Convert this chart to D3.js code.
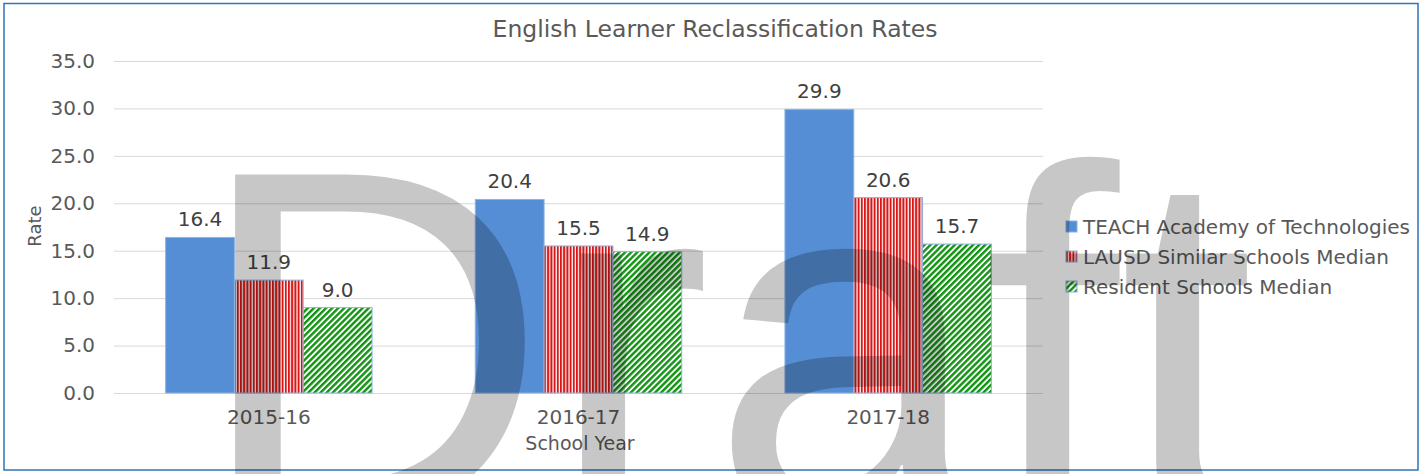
<!DOCTYPE html>
<html>
<head>
<meta charset="utf-8">
<script src="https://cdn.jsdelivr.net/npm/d3@7"></script>
<style>
  body { margin: 0; background: #ffffff; }
  svg { display: block; }
  text { font-family: "DejaVu Sans", Verdana, sans-serif; fill: #595959; }
</style>
</head>
<body>
<div id="drawing"></div>
<script>
// chart data
const years = ["2015-16", "2016-17", "2017-18"];
const seriesNames = ["TEACH Academy of Technologies", "LAUSD Similar Schools Median", "Resident Schools Median"];
const teachValues = [16.4, 20.4, 29.9];
const lausdValues = [11.9, 15.5, 20.6];
const residentValues = [9.0, 14.9, 15.7];
const yTicks = [0, 5, 10, 15, 20, 25, 30, 35];

const width = 1421;
const height = 474;
// plot area inside the frame
const plot = {left: 114, right: 1043, top: 61, bottom: 393};

let drawing;
let xScale;
let xInner;
let yScale;

function setup(){
  drawing = d3.select("#drawing").append("svg")
    .attr("width", width)
    .attr("height", height);

  // fill patterns for the two hatched series
  let defs = drawing.append("defs");
  let red = defs.append("pattern")
    .attr("id", "redStripes")
    .attr("patternUnits", "userSpaceOnUse")
    .attr("width", 3.2).attr("height", 3);
  red.append("rect").attr("width", 3.2).attr("height", 3).attr("fill", "#ffffff");
  red.append("rect").attr("width", 2).attr("height", 3).attr("fill", "#d81616");

  let green = defs.append("pattern")
    .attr("id", "greenDiag")
    .attr("patternUnits", "userSpaceOnUse")
    .attr("width", 4.3).attr("height", 4.3)
    .attr("patternTransform", "rotate(45)");
  green.append("rect").attr("width", 4.3).attr("height", 4.3).attr("fill", "#ffffff");
  green.append("rect").attr("width", 2.4).attr("height", 4.3).attr("fill", "#0f940f");

  // outer frame
  drawing.append("rect")
    .attr("x", 4).attr("y", 3.5)
    .attr("width", 1414).attr("height", 466.5)
    .attr("fill", "none")
    .attr("stroke", "#2e75b6")
    .attr("stroke-width", 1.5);
}

function make(){
  let series = [
    {name: seriesNames[0], values: teachValues, fill: "#558ed5"},
    {name: seriesNames[1], values: lausdValues, fill: "url(#redStripes)"},
    {name: seriesNames[2], values: residentValues, fill: "url(#greenDiag)"}
  ];

  xScale = d3.scaleBand().domain(years).range([plot.left, plot.right])
    .paddingInner(1 / 3).paddingOuter(1 / 6);
  xInner = d3.scaleBand().domain(d3.range(series.length)).range([0, xScale.bandwidth()]);
  yScale = d3.scaleLinear().domain([0, 35]).range([plot.bottom, plot.top]);

  // gridlines
  drawing.append("g")
    .attr("transform", `translate(${plot.left},0)`)
    .call(d3.axisLeft(yScale).tickValues(yTicks).tickSize(-(plot.right - plot.left)).tickFormat(""))
    .call(g => g.select(".domain").remove())
    .call(g => g.selectAll("line").attr("stroke", "#d9d9d9"));

  // y axis labels
  drawing.append("g")
    .attr("transform", `translate(${plot.left},0)`)
    .call(d3.axisLeft(yScale).tickValues(yTicks).tickSize(0).tickPadding(19).tickFormat(d3.format(".1f")))
    .call(g => g.select(".domain").remove())
    .call(g => g.selectAll("text").attr("font-size", 20).attr("font-family", null).attr("fill", "#595959"));

  // x axis labels
  drawing.append("g")
    .attr("transform", `translate(0,${plot.bottom})`)
    .call(d3.axisBottom(xScale).tickSize(0).tickPadding(17))
    .call(g => g.select(".domain").remove())
    .call(g => g.selectAll("text").attr("font-size", 20).attr("font-family", null).attr("fill", "#595959"));

  // bars
  let groups = drawing.selectAll(".series")
    .data(series)
    .enter()
    .append("g")
      .attr("class", "series");

  groups.selectAll("rect")
    .data((s, i) => s.values.map((v, j) => ({v: v, year: years[j], i: i, fill: s.fill})))
    .enter()
    .append("rect")
      .attr("x", d => xScale(d.year) + xInner(d.i))
      .attr("y", d => yScale(d.v))
      .attr("width", xInner.bandwidth())
      .attr("height", d => yScale(0) - yScale(d.v))
      .attr("fill", d => d.fill)
      .attr("stroke", "#8db3e2")
      .attr("stroke-width", 1);

  // value labels
  groups.selectAll(".valueLabel")
    .data((s, i) => s.values.map((v, j) => ({v: v, year: years[j], i: i})))
    .enter()
    .append("text")
      .attr("class", "valueLabel")
      .attr("x", d => xScale(d.year) + xInner(d.i) + xInner.bandwidth() / 2)
      .attr("y", d => yScale(d.v) - 11)
      .attr("text-anchor", "middle")
      .attr("font-size", 20)
      .style("fill", "#404040")
      .text(d => d3.format(".1f")(d.v));

  // titles
  drawing.append("text")
    .attr("x", 715).attr("y", 37)
    .attr("text-anchor", "middle")
    .attr("font-size", 23.5)
    .text("English Learner Reclassification Rates");

  drawing.append("text")
    .attr("transform", "translate(41,226) rotate(-90)")
    .attr("text-anchor", "middle")
    .attr("font-size", 18)
    .text("Rate");

  drawing.append("text")
    .attr("x", 580).attr("y", 450)
    .attr("text-anchor", "middle")
    .attr("font-size", 19)
    .text("School Year");

  // legend
  let legend = drawing.selectAll(".legendItem")
    .data(series)
    .enter()
    .append("g")
      .attr("class", "legendItem")
      .attr("transform", (d, i) => `translate(1066,${221 + i * 30})`);
  legend.append("rect")
    .attr("width", 11).attr("height", 11)
    .attr("fill", d => d.fill)
    .attr("stroke", "#8db3e2")
    .attr("stroke-width", 1);
  legend.append("text")
    .attr("x", 17).attr("y", 13)
    .attr("font-size", 20)
    .text(d => d.name);

  // draft watermark over everything
  drawing.append("text")
    .attr("transform", "translate(195,515) scale(0.988,1)")
    .attr("font-size", 495)
    .style("font-family", "'Liberation Sans', Arial, sans-serif")
    .style("fill", "#000000")
    .style("fill-opacity", 0.22)
    .text("Draft");
}

setup();
make();
</script>
</body>
</html>
